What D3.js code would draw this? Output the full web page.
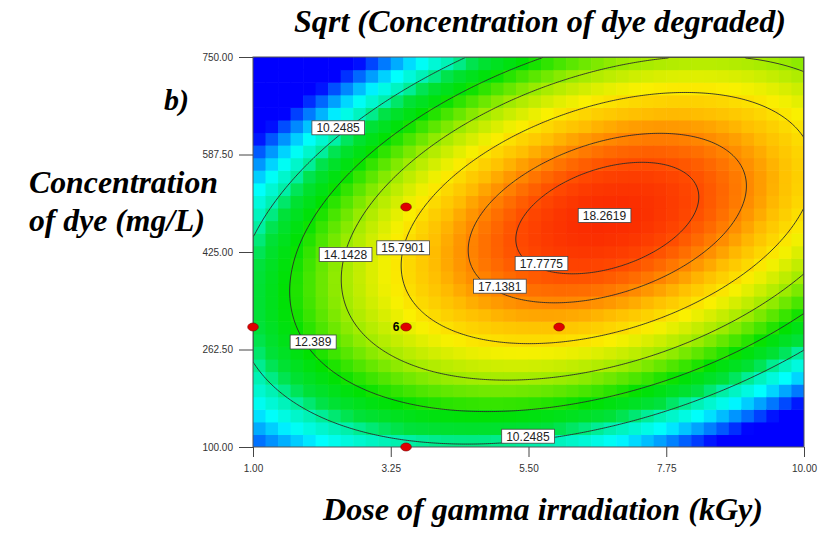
<!DOCTYPE html>
<html>
<head>
<meta charset="utf-8">
<script src="https://cdn.jsdelivr.net/npm/d3@7"></script>
<style>
  body { margin: 0; background: #fff; }
  .tick text { font-family: "Liberation Sans", Arial, sans-serif; font-size: 10px; fill: #333; }
  .tick line { stroke: #444; }
  .ttl { font-family: "Liberation Serif", "Times New Roman", serif; font-weight: bold; font-style: italic; fill: #000; }
</style>
</head>
<body>
<svg id="chart" width="831" height="533"></svg>
<script>
// quadratic response surface, coded units A = dose, B = concentration
const modelTerms = ['1', 'A', 'B', 'AB', 'A2', 'B2'];
const modelCoef = [17.858, 2.162, 1.126, 4.54, -5.16, -6.966];

const contourLevels = [10.2485, 12.389, 14.1428, 15.7901, 17.1381, 17.7775, 18.2619];

// contour label anchors (dose, conc)
const labelText = ['10.2485', '10.2485', '12.389', '14.1428', '15.7901', '17.1381', '17.7775', '18.2619'];
const labelDose = [2.39, 5.49, 1.98, 2.51, 3.45, 5.03, 5.71, 6.74];
const labelConc = [632, 118, 275, 421, 432, 368, 406, 486];

// design points
const pointDose = [1.0, 3.5, 6.0, 3.5, 3.5];
const pointConc = [300, 300, 300, 500, 100];
const pointReps = [1, 6, 1, 1, 1];

const xTicks = [1.00, 3.25, 5.50, 7.75, 10.00];
const yTicks = [100.00, 262.50, 425.00, 587.50, 750.00];

const doseRange = [1, 10];
const concRange = [100, 750];

function response(dose, conc) {
  const A = (dose - 5.5) / 4.5;
  const B = (conc - 425) / 325;
  const t = { '1': 1, 'A': A, 'B': B, 'AB': A * B, 'A2': A * A, 'B2': B * B };
  return d3.sum(modelTerms, (k, i) => modelCoef[i] * t[k]);
}

const svg = d3.select('#chart');
const pL = 253, pR = 804, pT = 57, pB = 447;

const x = d3.scaleLinear().domain(doseRange).range([pL, pR]);
const y = d3.scaleLinear().domain(concRange).range([pB, pT]);

const color = d3.scaleLinear()
  .domain([6.3, 9.0, 10.2, 11.0, 12.3, 14.0, 15.5, 16.5, 17.2, 17.8, 18.3])
  .range(['#0000ff', '#00ffff', '#00f0aa', '#00e13c', '#00e100', '#96eb00', '#faf000', '#ffbe00', '#ff8200', '#ff4b00', '#fa2800'])
  .clamp(true);

// pixelated colour map
const nx = 44, ny = 31;
const cells = [];
for (let i = 0; i < nx; i++) {
  for (let j = 0; j < ny; j++) {
    const d0 = doseRange[0] + i * 9 / nx, d1 = doseRange[0] + (i + 1) * 9 / nx;
    const c0 = concRange[0] + j * 650 / ny, c1 = concRange[0] + (j + 1) * 650 / ny;
    cells.push({ d0, d1, c0, c1, v: response((d0 + d1) / 2, (c0 + c1) / 2) });
  }
}

svg.append('clipPath').attr('id', 'plotClip')
  .append('rect').attr('x', pL).attr('y', pT).attr('width', pR - pL).attr('height', pB - pT);

const plot = svg.append('g').attr('clip-path', 'url(#plotClip)');

plot.selectAll('rect.cell')
  .data(cells)
  .enter()
  .append('rect')
  .attr('class', 'cell')
  .attr('x', d => x(d.d0))
  .attr('y', d => y(d.c1))
  .attr('width', d => x(d.d1) - x(d.d0) + 0.6)
  .attr('height', d => y(d.c0) - y(d.c1) + 0.6)
  .attr('fill', d => color(d.v));

// contour lines
const gx = 276, gy = 195;
const grid = new Array(gx * gy);
for (let j = 0; j < gy; j++) {
  for (let i = 0; i < gx; i++) {
    grid[j * gx + i] = response(doseRange[0] + (i + 0.5) * 9 / gx, concRange[1] - (j + 0.5) * 650 / gy);
  }
}
const contours = d3.contours().size([gx, gy]).thresholds(contourLevels)(grid);
const proj = d3.geoTransform({
  point: function (px, py) {
    this.stream.point(x(doseRange[0] + px * 9 / gx), y(concRange[1] - py * 650 / gy));
  }
});
plot.selectAll('path.contour')
  .data(contours)
  .enter()
  .append('path')
  .attr('class', 'contour')
  .attr('d', d3.geoPath(proj))
  .attr('fill', 'none')
  .attr('stroke', '#2a2a2a')
  .attr('stroke-width', 0.9);

// frame
svg.append('rect')
  .attr('x', pL).attr('y', pT)
  .attr('width', pR - pL).attr('height', pB - pT)
  .attr('fill', 'none').attr('stroke', '#555').attr('stroke-width', 1);

// contour labels
const labels = svg.append('g').selectAll('g')
  .data(labelText)
  .enter()
  .append('g')
  .attr('transform', (d, i) => `translate(${x(labelDose[i])},${y(labelConc[i])})`);
labels.append('text')
  .attr('text-anchor', 'middle')
  .attr('dy', '0.36em')
  .style('font-family', '"Liberation Sans", Arial, sans-serif')
  .style('font-size', '12px')
  .style('fill', '#222')
  .text(d => d);
labels.each(function () {
  const g = d3.select(this);
  const bb = g.select('text').node().getBBox();
  g.insert('rect', 'text')
    .attr('x', bb.x - 4.5).attr('y', -7)
    .attr('width', bb.width + 9).attr('height', 14)
    .attr('fill', '#fff').attr('stroke', '#444').attr('stroke-width', 0.8);
});

// design points
svg.append('g').selectAll('ellipse')
  .data(pointDose)
  .enter()
  .append('ellipse')
  .attr('cx', d => x(d))
  .attr('cy', (d, i) => y(pointConc[i]))
  .attr('rx', 5.3).attr('ry', 4)
  .attr('fill', '#e00000')
  .attr('stroke', '#7a0000').attr('stroke-width', 0.6);

const repIdx = pointReps.map((r, i) => i).filter(i => pointReps[i] > 1);
svg.append('g').selectAll('text')
  .data(repIdx)
  .enter()
  .append('text')
  .attr('x', i => x(pointDose[i]) - 6.5)
  .attr('y', i => y(pointConc[i]) + 4)
  .attr('text-anchor', 'end')
  .style('font-family', '"Liberation Sans", Arial, sans-serif')
  .style('font-size', '12px')
  .style('font-weight', 'bold')
  .text(i => pointReps[i]);

// axes
const yAxis = svg.append('g')
  .attr('transform', `translate(${pL},0)`)
  .call(d3.axisLeft(y).tickValues(yTicks).tickFormat(d3.format('.2f')).tickSize(14).tickPadding(6));
yAxis.select('.domain').remove();

const xAxis = svg.append('g')
  .attr('transform', `translate(0,${pB})`)
  .call(d3.axisBottom(x).tickValues(xTicks).tickFormat(d3.format('.2f')).tickSize(10).tickPadding(8));
xAxis.select('.domain').remove();

// titles
svg.append('text').attr('class', 'ttl')
  .attr('x', 294).attr('y', 32)
  .attr('textLength', 492).attr('lengthAdjust', 'spacingAndGlyphs')
  .style('font-size', '32px')
  .text('Sqrt (Concentration of dye degraded)');

svg.append('text').attr('class', 'ttl')
  .attr('x', 164).attr('y', 110)
  .style('font-size', '30px')
  .text('b)');

svg.append('text').attr('class', 'ttl')
  .attr('x', 29).attr('y', 193)
  .attr('textLength', 189).attr('lengthAdjust', 'spacingAndGlyphs')
  .style('font-size', '32px')
  .text('Concentration');

svg.append('text').attr('class', 'ttl')
  .attr('x', 29).attr('y', 231)
  .attr('textLength', 176).attr('lengthAdjust', 'spacingAndGlyphs')
  .style('font-size', '32px')
  .text('of dye (mg/L)');

svg.append('text').attr('class', 'ttl')
  .attr('x', 323).attr('y', 520)
  .attr('textLength', 440).attr('lengthAdjust', 'spacingAndGlyphs')
  .style('font-size', '32px')
  .text('Dose of gamma irradiation (kGy)');
</script>
</body>
</html>
